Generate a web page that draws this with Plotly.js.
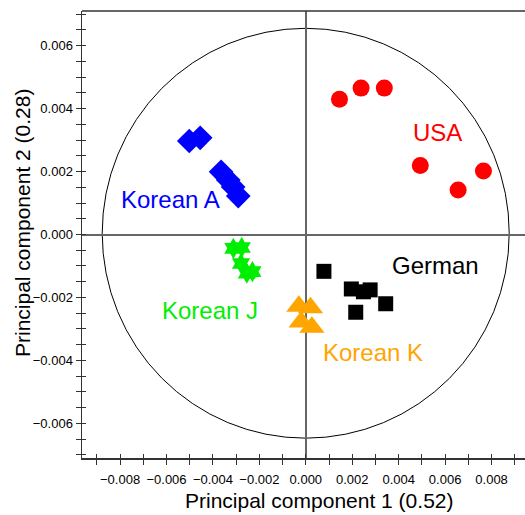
<!DOCTYPE html>
<html>
<head>
<meta charset="utf-8">
<script src="https://cdn.plot.ly/plotly-3.0.1.min.js"></script>
<style>html,body{margin:0;padding:0;background:#fff;}#chart{width:525px;height:515px;}</style>
</head>
<body>
<div id="chart"></div>
<script>
// ---- data ----
var usaX = [0.00145, 0.00238, 0.00338, 0.00493, 0.00656, 0.00765];
var usaY = [0.00430, 0.00465, 0.00465, 0.00219, 0.00141, 0.00202];

var koreanAX = [-0.00502, -0.00455, -0.00365, -0.00334, -0.00313, -0.00291];
var koreanAY = [0.00297, 0.00307, 0.00199, 0.00173, 0.00151, 0.00122];

var koreanJX = [-0.00312, -0.00276, -0.00279, -0.00254, -0.00230];
var koreanJY = [-0.00044, -0.00041, -0.00092, -0.00123, -0.00118];

var koreanKX = [-0.00030, 0.00020, -0.00020, 0.00026];
var koreanKY = [-0.00228, -0.00233, -0.00278, -0.00295];

var germanX = [0.00078, 0.00196, 0.00248, 0.00277, 0.00344, 0.00215];
var germanY = [-0.00117, -0.00173, -0.00182, -0.00176, -0.00220, -0.00247];

var groupNames = ["USA", "Korean A", "Korean J", "Korean K", "German"];
var labelX = [0.00568, -0.00581, -0.00414, 0.00288, 0.00559];
var labelY = [0.00324, 0.00112, -0.00240, -0.00376, -0.00100];

var xTitle = "Principal component 1 (0.52)";
var yTitle = "Principal component 2 (0.28)";

// ellipse (unit circle of the correlation plot) in data units
var ellipseX = [-0.00877, 0.00876];
var ellipseY = [-0.00647, 0.00655];

var xRange = [-0.00964, 0.00944];
var yRange = [-0.0071, 0.0071];

// ---- styling ----
var FONT = "Liberation Sans, Arial, Helvetica, sans-serif";
var colors = ["#ff0000", "#0000ff", "#00ee00", "#ffa500", "#000000"];
var symbols = ["circle", "diamond", "hexagram", "triangle-up", "square"];
var sizes = [17, 19, 16, 22, 15];
var xs = [usaX, koreanAX, koreanJX, koreanKX, germanX];
var ys = [usaY, koreanAY, koreanJY, koreanKY, germanY];

var traces = [];
for (var i = 0; i < groupNames.length; i++) {
  traces.push({
    type: "scatter", mode: "markers", name: groupNames[i],
    x: xs[i], y: ys[i], showlegend: false, hoverinfo: "x+y+name",
    marker: {symbol: symbols[i], size: sizes[i], color: colors[i], line: {width: 0}}
  });
}
// dummy trace so overlay axes (inner tick halves) are drawn
traces.push({type: "scatter", mode: "markers", x: [null], y: [null], xaxis: "x2", yaxis: "y2", showlegend: false, hoverinfo: "skip"});

var annotations = [];
for (var j = 0; j < groupNames.length; j++) {
  annotations.push({
    x: labelX[j], y: labelY[j], xref: "x", yref: "y", text: groupNames[j],
    showarrow: false, xanchor: "center", yanchor: "middle",
    font: {family: FONT, size: 24, color: colors[j]}
  });
}
annotations.push({
  text: xTitle, xref: "paper", yref: "paper", x: 0.535, y: -0.094,
  xanchor: "center", yanchor: "middle", showarrow: false,
  font: {family: FONT, size: 21, color: "#000"}
});
annotations.push({
  text: yTitle, xref: "paper", yref: "paper", x: -0.1354, y: 0.5257,
  xanchor: "center", yanchor: "middle", showarrow: false, textangle: -90,
  font: {family: FONT, size: 21, color: "#000"}
});

var axisCol = "#333333";
var layout = {
  width: 525, height: 515,
  margin: {l: 82, r: 0, t: 11, b: 57, pad: 0},
  paper_bgcolor: "#ffffff", plot_bgcolor: "#ffffff",
  font: {family: FONT, size: 13, color: "#000"},
  xaxis: {
    range: xRange, showgrid: false, zeroline: true, zerolinecolor: "#666666", zerolinewidth: 2,
    showline: true, linecolor: axisCol, linewidth: 1.5,
    tick0: 0, dtick: 0.002, tickformat: ".3f", ticks: "outside", ticklen: 5, tickcolor: axisCol, tickwidth: 1,
    ticklabelstandoff: 4,
    minor: {dtick: 0.001, tick0: 0, ticks: "outside", ticklen: 5, tickcolor: axisCol, tickwidth: 1, showgrid: false},
    tickfont: {family: FONT, size: 13, color: "#000"}, fixedrange: true
  },
  yaxis: {
    range: yRange, showgrid: false, zeroline: true, zerolinecolor: "#666666", zerolinewidth: 2,
    showline: true, linecolor: axisCol, linewidth: 1.5,
    tick0: 0, dtick: 0.002, tickformat: ".3f", ticks: "outside", ticklen: 5, tickcolor: axisCol, tickwidth: 1,
    ticklabelstandoff: 0,
    minor: {dtick: 0.0005, tick0: 0, ticks: "outside", ticklen: 5, tickcolor: axisCol, tickwidth: 1, showgrid: false},
    tickfont: {family: FONT, size: 13, color: "#000"}, fixedrange: true
  },
  xaxis2: {
    overlaying: "x", anchor: "y", side: "bottom", range: xRange,
    showgrid: false, zeroline: false, showline: false, showticklabels: false,
    tick0: 0, dtick: 0.001, ticks: "inside", ticklen: 4, tickcolor: axisCol, tickwidth: 1, fixedrange: true
  },
  yaxis2: {
    overlaying: "y", anchor: "x", side: "left", range: yRange,
    showgrid: false, zeroline: false, showline: false, showticklabels: false,
    tick0: 0, dtick: 0.0005, ticks: "inside", ticklen: 4, tickcolor: axisCol, tickwidth: 1, fixedrange: true
  },
  shapes: [
    {type: "circle", xref: "x", yref: "y", x0: ellipseX[0], x1: ellipseX[1], y0: ellipseY[0], y1: ellipseY[1],
     line: {color: "#000", width: 1}, layer: "below"},
    {type: "line", xref: "paper", yref: "paper", x0: 0, x1: 1, y0: 1, y1: 1,
     line: {color: axisCol, width: 1.5}}
  ],
  annotations: annotations
};

Plotly.newPlot("chart", traces, layout, {displayModeBar: false, staticPlot: true});
</script>
</body>
</html>
